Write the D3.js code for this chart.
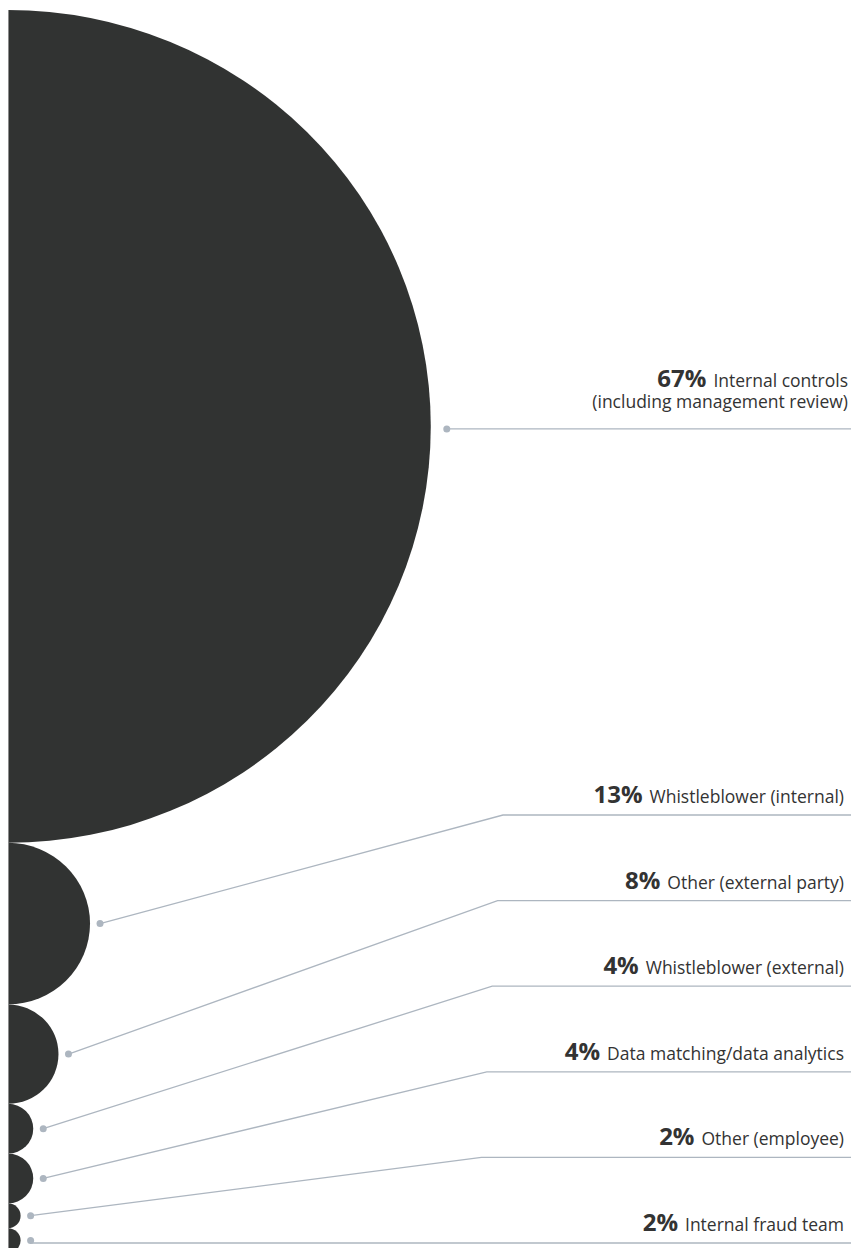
<!DOCTYPE html>
<html>
<head>
<meta charset="utf-8">
<script src="https://cdn.jsdelivr.net/npm/d3@7"></script>
<style>
  body { margin: 0; background: #fff; }
  svg { display: block; }
</style>
</head>
<body>
<div id="container"></div>
<script>
const width = 851,
  height = 1248;

/** -------------- DATA -------------- */

const categories = [
  "Internal controls",
  "Whistleblower (internal)",
  "Other (external party)",
  "Whistleblower (external)",
  "Data matching/data analytics",
  "Other (employee)",
  "Internal fraud team"
];
const subLabels = ["(including management review)", "", "", "", "", "", ""];
const values = [67, 13, 8, 4, 4, 2, 2];

const data = categories.map((c, i) => ({ name: c, sub: subLabels[i], value: values[i] }));

/** -------------- SCALES -------------- */

const leftX = 8,
  topY = 10,
  textRight = 844,
  lineColor = "#adb6c0",
  fill = "#313332";

// diameter grows linearly with the share (shapes are a touch wider than tall)
const diamY = d3.scaleLinear([0, 100], [0, 1243]);
const diamX = d3.scaleLinear([0, 100], [0, 1262]);

let acc = topY;
data.forEach(d => {
  d.ry = diamY(d.value) / 2;
  d.rx = diamX(d.value) / 2;
  d.cy = acc + d.ry;
  acc += diamY(d.value);
});

// label rows for the small shapes, evenly spaced toward the bottom
const labelY = d3.scalePoint(categories.slice(1), [815, 1243]);
const kneeX = d3.scaleLinear([1, 6], [503, 476]);

/** -------------- APPEND TO DOM -------------- */

const svg = d3.select("#container")
  .append("svg")
  .attr("width", width)
  .attr("height", height);

svg.append("clipPath")
    .attr("id", "half")
  .append("rect")
    .attr("x", leftX)
    .attr("y", 0)
    .attr("width", width)
    .attr("height", height);

svg.append("g")
    .attr("clip-path", "url(#half)")
  .selectAll("ellipse")
  .data(data)
  .join("ellipse")
    .attr("cx", leftX)
    .attr("cy", d => d.cy)
    .attr("rx", d => d.rx)
    .attr("ry", d => d.ry)
    .attr("fill", fill);

svg.append("line")
    .attr("x1", leftX + 0.5)
    .attr("x2", leftX + 0.5)
    .attr("y1", topY)
    .attr("y2", height)
    .attr("stroke", "#8c8c8c")
    .attr("stroke-width", 1);

// leaders
data.forEach((d, i) => {
  d.dotX = leftX + d.rx + (i === 0 ? 16 : 10);
  d.dotY = i === 0 ? d.cy + 2.5 : d.cy;
  d.lineY = i === 0 ? d.dotY : labelY(d.name);
  d.knee = i === 0 || i === data.length - 1 ? d.dotX : kneeX(i);
});

const lead = svg.append("g");

lead.selectAll("path")
  .data(data)
  .join("path")
    .attr("fill", "none")
    .attr("stroke", lineColor)
    .attr("stroke-width", 1.3)
    .attr("d", d => d3.line()([[d.dotX, d.dotY], [d.knee, d.lineY], [width, d.lineY]]));

lead.selectAll("circle")
  .data(data)
  .join("circle")
    .attr("cx", d => d.dotX)
    .attr("cy", d => d.dotY)
    .attr("r", 3.5)
    .attr("fill", lineColor);

// labels
const labels = svg.append("g")
    .attr("font-family", "'Open Sans', sans-serif")
    .attr("fill", "#333")
    .attr("text-anchor", "end");

const t = labels.selectAll("text.main")
  .data(data)
  .join("text")
    .attr("class", "main")
    .attr("x", (d, i) => i === 0 ? 848 : textRight)
    .attr("y", d => d.sub ? d.lineY - 42 : d.lineY - 12);

t.append("tspan")
    .attr("font-weight", 700)
    .attr("font-size", 24)
    .text(d => d.value + "%");

t.append("tspan")
    .attr("font-size", 17.5)
    .attr("dx", 7)
    .text(d => d.name);

labels.selectAll("text.sub")
  .data(data.filter(d => d.sub))
  .join("text")
    .attr("class", "sub")
    .attr("x", 848)
    .attr("y", d => d.lineY - 21)
    .attr("font-size", 17.5)
    .text(d => d.sub);
</script>
</body>
</html>
